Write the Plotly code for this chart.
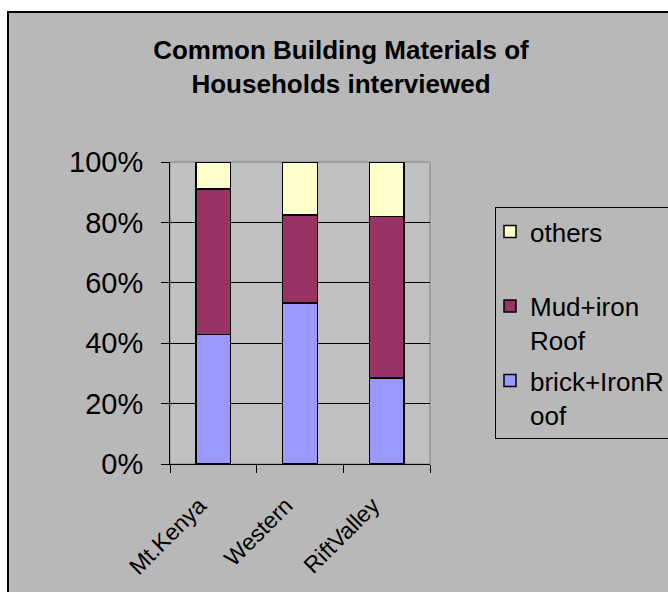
import plotly.graph_objects as go

# Regions surveyed and share of households by building material
regions = ["Mt.Kenya", "Western", "RiftValley"]
brick_iron_roof = [0.429, 0.533, 0.284]
mud_iron_roof = [0.481, 0.292, 0.536]
others = [0.090, 0.175, 0.180]

series_names = ["brick+IronR<br>oof", "Mud+iron<br>Roof", "others<br> "]
series_values = [brick_iron_roof, mud_iron_roof, others]
series_colors = ["#9999ff", "#993366", "#ffffcc"]

W, H = 668, 592
# plot-area edges in pixels
L, R, T, B = 170, 430, 162, 464
pw, ph = R - L, B - T


def px_x(x):
    return (x - L) / pw


def px_y(y):
    return (B - y) / ph


fig = go.Figure()
n = len(series_names)
for i, (name, vals, col) in enumerate(zip(series_names, series_values, series_colors)):
    fig.add_trace(go.Bar(
        x=regions, y=vals, name=name,
        legendgroup=f"g{i}", legendrank=n - i,  # top series listed first
        marker=dict(color=col, line=dict(color="black", width=1.5)),
        hoverinfo="skip",
    ))

font_family = "Liberation Sans, Arial, sans-serif"

fig.update_layout(
    width=W, height=H,
    margin=dict(l=L, r=W - R, t=T, b=H - B, pad=0),
    barmode="stack",
    bargap=0.6,
    paper_bgcolor="white",
    plot_bgcolor="rgba(0,0,0,0)",
    font=dict(family=font_family, color="black"),
    title=dict(
        text="Common Building Materials of<br>Households interviewed",
        font=dict(size=26, family=font_family, color="black", weight="bold"),
        x=341 / W, xanchor="center", xref="container",
        y=1 - 59 / H, yanchor="top", yref="container",
    ),
    xaxis=dict(
        automargin=False,
        showline=True, linecolor="black", linewidth=1,
        ticks="outside", ticklen=8, tickcolor="black",
        tickson="boundaries",
        tickangle=-45, tickfont=dict(size=23),
        ticklabelstandoff=18, ticklabelshift=-14,
        showgrid=False,
    ),
    yaxis=dict(
        automargin=False,
        range=[0, 1], dtick=0.2, tickformat=".0%",
        showline=True, linecolor="black", linewidth=1,
        ticks="outside", ticklen=8, tickcolor="black",
        tickfont=dict(size=29),
        ticklabelstandoff=12,
        showgrid=True, gridcolor="black", gridwidth=1,
        zeroline=False,
    ),
    legend=dict(
        traceorder="grouped",
        xref="container", yref="container",
        x=495 / W, xanchor="left",
        y=1 - 207 / H, yanchor="top",
        bgcolor="#b8b8b8", bordercolor="black", borderwidth=1,
        font=dict(size=26, family=font_family, color="black"),
        valign="top",
        tracegroupgap=4,
        indentation=-6,
        itemclick=False, itemdoubleclick=False,
    ),
    shapes=[
        # chart area
        dict(type="rect", xref="paper", yref="paper", layer="below",
             x0=px_x(8), x1=px_x(720), y0=px_y(640), y1=px_y(12),
             fillcolor="#b8b8b8", line=dict(color="black", width=2)),
        # plot area
        dict(type="rect", xref="paper", yref="paper", layer="below",
             x0=0, x1=1, y0=0, y1=1,
             fillcolor="#c0c0c0", line=dict(color="#808080", width=1)),
    ],
)

fig.write_html("out.html")
